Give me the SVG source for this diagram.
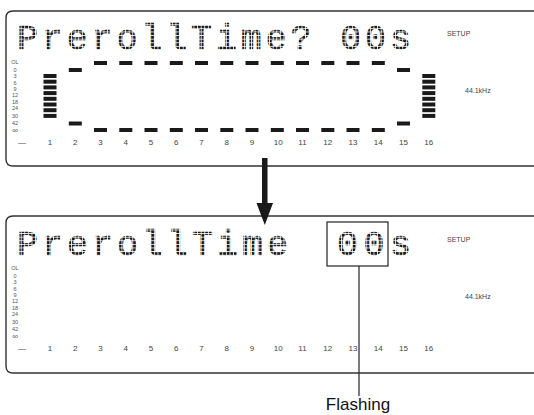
<svg xmlns="http://www.w3.org/2000/svg" width="534" height="415" viewBox="0 0 534 415">
<style>
.panel{fill:none;stroke:#333;stroke-width:1.4}
.lcd{font-family:"Liberation Mono","DejaVu Sans Mono",monospace;font-size:35px;fill:url(#dots);stroke:url(#dots);stroke-width:0.6}
.ch{font-family:"Liberation Sans",Arial,sans-serif;font-size:8px;fill:#444;text-anchor:middle}
.sc{font-family:"Liberation Sans",Arial,sans-serif;font-size:5.5px;fill:#555;text-anchor:middle}
.info{font-family:"Liberation Sans",Arial,sans-serif;font-size:7px;fill:#444}
.blk{fill:#1a1a1a}
</style>
<defs>
<pattern id="dots" width="3.6" height="3.6" patternUnits="userSpaceOnUse">
<rect width="2.8" height="2.8" fill="#1a1a1a"/>
</pattern>
<rect id="b" width="13" height="4" class="blk"/>
<g id="scale">
<text class="sc" x="15" y="64">OL</text>
<text class="sc" x="15" y="72">0</text>
<text class="sc" x="15" y="78">3</text>
<text class="sc" x="15" y="85">6</text>
<text class="sc" x="15" y="91">9</text>
<text class="sc" x="15" y="97">12</text>
<text class="sc" x="15" y="104">18</text>
<text class="sc" x="15" y="110">24</text>
<text class="sc" x="15" y="118">30</text>
<text class="sc" x="15" y="125">42</text>
<text class="sc" x="15" y="133" style="font-size:8px">∞</text>
<text class="ch" x="22" y="145">—</text>
<text class="ch" x="50" y="145">1</text>
<text class="ch" x="75.3" y="145">2</text>
<text class="ch" x="100.5" y="145">3</text>
<text class="ch" x="125.8" y="145">4</text>
<text class="ch" x="151" y="145">5</text>
<text class="ch" x="176.3" y="145">6</text>
<text class="ch" x="201.5" y="145">7</text>
<text class="ch" x="226.8" y="145">8</text>
<text class="ch" x="252" y="145">9</text>
<text class="ch" x="278.3" y="145">10</text>
<text class="ch" x="302.5" y="145">11</text>
<text class="ch" x="327.8" y="145">12</text>
<text class="ch" x="353" y="145">13</text>
<text class="ch" x="378.3" y="145">14</text>
<text class="ch" x="403.5" y="145">15</text>
<text class="ch" x="428.8" y="145">16</text>
<text class="info" x="447" y="36">SETUP</text>
<text class="info" x="465" y="93">44.1kHz</text>
</g>
</defs>

<g id="panel1">
<path class="panel" d="M534 11 H13 Q6 11 6 18 V159 Q6 166 13 166 H534"/>
<text class="lcd" x="17" y="49" textLength="394" lengthAdjust="spacing">PrerollTime? 00s</text>
<use href="#scale"/>
<g id="meters1">
<use href="#b" x="43.5" y="74"/><use href="#b" x="43.5" y="79.7"/><use href="#b" x="43.5" y="85.4"/><use href="#b" x="43.5" y="91.1"/><use href="#b" x="43.5" y="96.8"/><use href="#b" x="43.5" y="102.5"/><use href="#b" x="43.5" y="108.2"/><use href="#b" x="43.5" y="113.9"/>
<use href="#b" x="68.8" y="68"/><use href="#b" x="68.8" y="121.5"/>
<use href="#b" x="94" y="61"/><use href="#b" x="94" y="128"/>
<use href="#b" x="119.3" y="61"/><use href="#b" x="119.3" y="128"/>
<use href="#b" x="144.5" y="61"/><use href="#b" x="144.5" y="128"/>
<use href="#b" x="169.8" y="61"/><use href="#b" x="169.8" y="128"/>
<use href="#b" x="195" y="61"/><use href="#b" x="195" y="128"/>
<use href="#b" x="220.3" y="61"/><use href="#b" x="220.3" y="128"/>
<use href="#b" x="245.5" y="61"/><use href="#b" x="245.5" y="128"/>
<use href="#b" x="270.8" y="61"/><use href="#b" x="270.8" y="128"/>
<use href="#b" x="296" y="61"/><use href="#b" x="296" y="128"/>
<use href="#b" x="321.3" y="61"/><use href="#b" x="321.3" y="128"/>
<use href="#b" x="346.5" y="61"/><use href="#b" x="346.5" y="128"/>
<use href="#b" x="371.8" y="61"/><use href="#b" x="371.8" y="128"/>
<use href="#b" x="397" y="68"/><use href="#b" x="397" y="121.5"/>
<use href="#b" x="422.3" y="74"/><use href="#b" x="422.3" y="79.7"/><use href="#b" x="422.3" y="85.4"/><use href="#b" x="422.3" y="91.1"/><use href="#b" x="422.3" y="96.8"/><use href="#b" x="422.3" y="102.5"/><use href="#b" x="422.3" y="108.2"/><use href="#b" x="422.3" y="113.9"/>
</g>
</g>

<g id="panel2">
<path class="panel" d="M534 216 H13 Q6 216 6 223 V366 Q6 373 13 373 H534"/>
<text class="lcd" x="17" y="255" textLength="271" lengthAdjust="spacing">PrerollTime</text>
<text class="lcd" x="337" y="255" textLength="74" lengthAdjust="spacing">00s</text>
<use href="#scale" y="206"/>
<rect x="327" y="222" width="61" height="44" fill="none" stroke="#222" stroke-width="1.2"/>
</g>

<g id="connectors">
<rect x="262" y="158" width="5.5" height="46" fill="#1a1a1a"/>
<polygon points="256.5,203 273,203 264.8,225" fill="#1a1a1a"/>
<line x1="359" y1="266" x2="359" y2="396" stroke="#222" stroke-width="1.2"/>
</g>

<g id="label">
<text x="358" y="410" text-anchor="middle" font-family="Liberation Sans, Arial, sans-serif" font-size="17" fill="#111">Flashing</text>
</g>
</svg>
